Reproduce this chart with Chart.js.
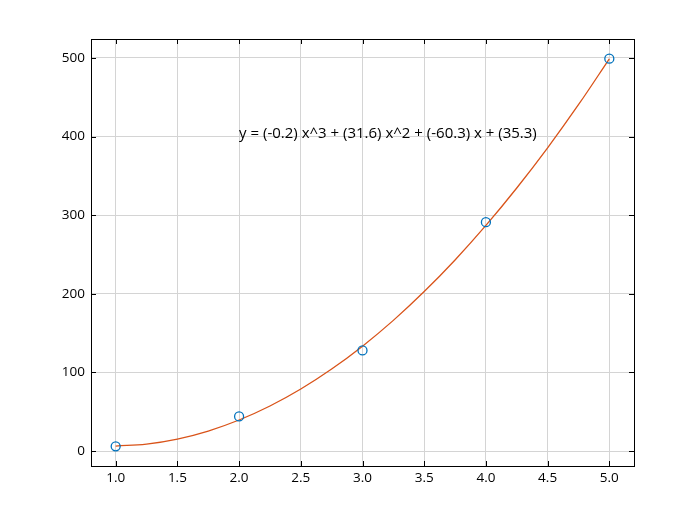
<!DOCTYPE html>
<html>
<head>
<meta charset="utf-8">
<script src="https://cdn.jsdelivr.net/npm/chart.js@4/dist/chart.umd.min.js"></script>
<style>
  html, body { margin: 0; padding: 0; background: #fff; }
  #wrap { width: 700px; height: 524px; }
</style>
</head>
<body>
<div id="wrap"><canvas id="chart" width="700" height="524"></canvas></div>
<script>
// measured points
const pointX = [1, 2, 3, 4, 5]
const pointY = [6, 44, 128, 291, 499]

// fitted curve, every 0.25
const curveX = [1, 1.25, 1.5, 1.75, 2, 2.25, 2.5, 2.75, 3, 3.25, 3.5, 3.75, 4, 4.25, 4.5, 4.75, 5]
const curveY = [6.4, 8.9, 15.3, 25.5, 39.5, 57.3, 78.9, 104.3, 133.4, 166.2, 202.8, 243, 286.9, 334.5, 385.6, 440.4, 498.8]

const xTicks = [1.0, 1.5, 2.0, 2.5, 3.0, 3.5, 4.0, 4.5, 5.0]
const yTicks = [0, 100, 200, 300, 400, 500]

const fitLabel = 'y = (-0.2) x^3 + (31.6) x^2 + (-60.3) x + (35.3)'
const labelAt = { x: 2, y: 400 }

const FONT = '"Open Sans", "Noto Sans", sans-serif'

// box + inward ticks on all four sides, plus the fit label
const framePlugin = {
  id: 'frame',
  afterDatasetsDraw(chart) {
    const ctx = chart.ctx
    const a = chart.chartArea
    const xs = chart.scales.x
    const ys = chart.scales.y
    ctx.save()
    ctx.strokeStyle = '#000'
    ctx.lineWidth = 1
    const tl = 5
    ctx.beginPath()
    xTicks.forEach(v => {
      const px = Math.round(xs.getPixelForValue(v)) + 0.5
      ctx.moveTo(px, a.bottom); ctx.lineTo(px, a.bottom - tl)
      ctx.moveTo(px, a.top); ctx.lineTo(px, a.top + tl)
    })
    yTicks.forEach(v => {
      const py = Math.round(ys.getPixelForValue(v)) + 0.5
      ctx.moveTo(a.left, py); ctx.lineTo(a.left + tl, py)
      ctx.moveTo(a.right, py); ctx.lineTo(a.right - tl, py)
    })
    ctx.stroke()
    ctx.strokeRect(Math.round(a.left) + 0.5, Math.round(a.top) + 0.5,
      Math.round(a.right - a.left), Math.round(a.bottom - a.top))

    ctx.fillStyle = '#000'
    ctx.font = '15px ' + FONT
    ctx.textAlign = 'left'
    ctx.textBaseline = 'alphabetic'
    ctx.fillText(fitLabel, xs.getPixelForValue(labelAt.x), ys.getPixelForValue(labelAt.y) + 1)
    ctx.restore()
  }
}

const ctx = document.getElementById('chart').getContext('2d')
const chart = new Chart(ctx, {
  type: 'scatter',
  data: {
    datasets: [{
      label: 'data',
      data: pointX.map((x, i) => ({ x: x, y: pointY[i] })),
      pointStyle: 'circle',
      pointRadius: 4.5,
      pointBorderWidth: 1.3,
      borderColor: '#0072BD',
      backgroundColor: 'rgba(0,0,0,0)',
      showLine: false,
      order: 1,
    }, {
      label: 'fit',
      data: curveX.map((x, i) => ({ x: x, y: curveY[i] })),
      showLine: true,
      borderColor: '#D95319',
      borderWidth: 1.3,
      pointRadius: 0,
      tension: 0.4,
      order: 2,
    }],
  },
  options: {
    responsive: false,
    animation: false,
    layout: { padding: { left: 0, top: 39, right: 66, bottom: 0 } },
    plugins: { legend: { display: false }, tooltip: { enabled: false } },
    scales: {
      x: {
        type: 'linear',
        min: 0.8,
        max: 5.2,
        afterBuildTicks: s => { s.ticks = xTicks.map(v => ({ value: v })) },
        afterFit: s => { s.height = 58 },
        border: { display: false },
        grid: { color: '#d4d4d4', lineWidth: 1, drawTicks: false },
        ticks: {
          padding: 4,
          color: '#000',
          font: { family: FONT, size: 13.5 },
          maxRotation: 0,
          callback: v => Number(v).toFixed(1),
        },
      },
      y: {
        type: 'linear',
        min: -19,
        max: 524,
        afterBuildTicks: s => { s.ticks = yTicks.map(v => ({ value: v })) },
        afterFit: s => { s.width = 91 },
        border: { display: false },
        grid: { color: '#d4d4d4', lineWidth: 1, drawTicks: false },
        ticks: {
          padding: 6,
          color: '#000',
          font: { family: FONT, size: 13.5 },
          callback: v => String(v),
        },
      },
    },
  },
  plugins: [framePlugin],
})
</script>
</body>
</html>
